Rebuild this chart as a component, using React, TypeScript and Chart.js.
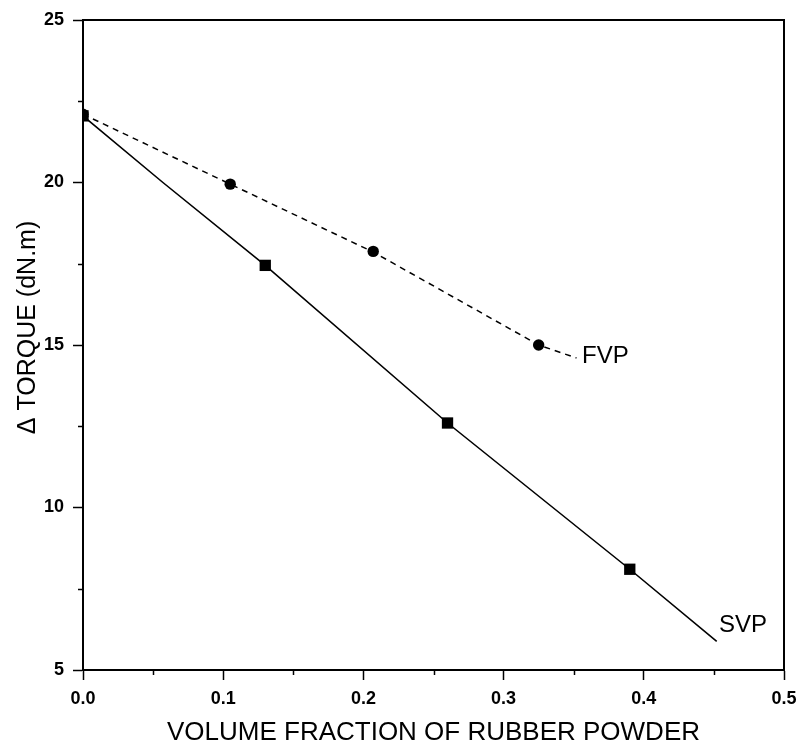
import React, { useEffect, useRef } from "react";
import { Chart, registerables } from "chart.js";

Chart.register(...registerables);

// FVP measured points (circles)
const fvpX = [0, 0.105, 0.207, 0.325];
const fvpY = [22.1, 19.95, 17.88, 15.0];
// FVP dashed curve
const fvpCurveX = [0, 0.105, 0.207, 0.325, 0.352];
const fvpCurveY = [22.1, 19.95, 17.86, 15.0, 14.6];

// SVP measured points (squares)
const svpX = [0, 0.13, 0.26, 0.39];
const svpY = [22.05, 17.45, 12.6, 8.1];
// SVP solid curve
const svpCurveX = [0, 0.057, 0.13, 0.26, 0.39, 0.452];
const svpCurveY = [22.05, 20.0, 17.45, 12.6, 8.1, 5.88];

// Tick values
const xMajorTicks = [0, 0.1, 0.2, 0.3, 0.4, 0.5];
const xMinorTicks = [0.05, 0.15, 0.25, 0.35, 0.45];
const yMajorTicks = [5, 10, 15, 20, 25];
const yMinorTicks = [7.5, 12.5, 17.5, 22.5];

// Curve labels
const curveNames = ["FVP", "SVP"];
const curveLabelX = [0.356, 0.4536];
const curveLabelY = [14.66, 6.38];

const xTitle = "VOLUME FRACTION OF RUBBER POWDER";
const yTitle = "\u0394 TORQUE (dN.m)";

const FONT = '"Liberation Sans", Arial, sans-serif';

const pts = (xs: number[], ys: number[]) => xs.map((x, i) => ({ x, y: ys[i] }));

const decorPlugin = {
  id: "decor",
  afterDraw(chart: any) {
    const { ctx, chartArea, scales } = chart;
    const xs = scales.x;
    const ys = scales.y;
    ctx.save();
    ctx.strokeStyle = "#000";
    // top and right frame
    ctx.lineWidth = 2;
    ctx.beginPath();
    ctx.moveTo(chartArea.left, chartArea.top);
    ctx.lineTo(chartArea.right, chartArea.top);
    ctx.lineTo(chartArea.right, chartArea.bottom);
    ctx.stroke();
    // minor ticks
    ctx.lineWidth = 1.5;
    ctx.beginPath();
    xMinorTicks.forEach((v) => {
      const px = Math.round(xs.getPixelForValue(v)) + 0.5;
      ctx.moveTo(px, chartArea.bottom);
      ctx.lineTo(px, chartArea.bottom + 5);
    });
    yMinorTicks.forEach((v) => {
      const py = Math.round(ys.getPixelForValue(v)) + 0.5;
      ctx.moveTo(chartArea.left - 5, py);
      ctx.lineTo(chartArea.left, py);
    });
    ctx.stroke();
    // titles
    ctx.fillStyle = "#000";
    ctx.font = `26px ${FONT}`;
    ctx.textAlign = "center";
    ctx.textBaseline = "alphabetic";
    ctx.fillText(xTitle, (chartArea.left + chartArea.right) / 2, 740);
    ctx.save();
    ctx.translate(34.5, 327.5);
    ctx.rotate(-Math.PI / 2);
    ctx.font = `25px ${FONT}`;
    ctx.fillText(yTitle, 0, 0);
    ctx.restore();
    // curve labels
    ctx.font = `24px ${FONT}`;
    ctx.textAlign = "left";
    ctx.textBaseline = "middle";
    curveNames.forEach((n, i) => {
      ctx.fillText(n, xs.getPixelForValue(curveLabelX[i]), ys.getPixelForValue(curveLabelY[i]));
    });
    ctx.restore();
  },
};

export default function App() {
  const ref = useRef<HTMLCanvasElement | null>(null);
  useEffect(() => {
    if (!ref.current) return;
    const chart = new Chart(ref.current, {
      type: "scatter",
      data: {
        datasets: [
          {
            data: pts(fvpCurveX, fvpCurveY),
            showLine: true,
            borderColor: "#000",
            borderWidth: 1.5,
            borderDash: [6, 5],
            pointRadius: 0,
            tension: 0,
          },
          {
            data: pts(svpCurveX, svpCurveY),
            showLine: true,
            borderColor: "#000",
            borderWidth: 1.6,
            pointRadius: 0,
            tension: 0,
          },
          {
            data: pts(svpX, svpY),
            showLine: false,
            pointStyle: "rect",
            pointRadius: 8,
            backgroundColor: "#000",
            borderColor: "#000",
            borderWidth: 0,
          },
          {
            data: pts(fvpX, fvpY),
            showLine: false,
            pointStyle: "circle",
            pointRadius: 5.7,
            backgroundColor: "#000",
            borderColor: "#000",
            borderWidth: 0,
          },
        ],
      },
      options: {
        responsive: false,
        animation: false,
        events: [],
        layout: { padding: { top: 20, right: 15, left: 0, bottom: 0 } },
        plugins: { legend: { display: false }, tooltip: { enabled: false } },
        scales: {
          x: {
            type: "linear",
            position: "bottom",
            min: 0,
            max: 0.5,
            afterBuildTicks: (s: any) => {
              s.ticks = xMajorTicks.map((v) => ({ value: v }));
            },
            afterFit: (s: any) => {
              s.height = 75;
              s.paddingLeft = 0;
              s.paddingRight = 0;
            },
            ticks: {
              color: "#000",
              font: { family: FONT, size: 18, weight: "bold" },
              padding: 8,
              maxRotation: 0,
              callback: (v: any) => Number(v).toFixed(1),
            },
            grid: { drawOnChartArea: false, drawTicks: true, tickLength: 10, tickWidth: 1.5, tickColor: "#000" },
            border: { display: true, color: "#000", width: 2 },
          },
          y: {
            type: "linear",
            position: "left",
            min: 5,
            max: 25,
            afterBuildTicks: (s: any) => {
              s.ticks = yMajorTicks.map((v) => ({ value: v }));
            },
            afterFit: (s: any) => {
              s.width = 83;
              s.paddingTop = 0;
              s.paddingBottom = 0;
            },
            ticks: {
              color: "#000",
              font: { family: FONT, size: 18, weight: "bold" },
              padding: 9,
              callback: (v: any) => String(v),
            },
            grid: { drawOnChartArea: false, drawTicks: true, tickLength: 10, tickWidth: 1.5, tickColor: "#000" },
            border: { display: true, color: "#000", width: 2 },
          },
        },
      },
      plugins: [decorPlugin],
    });
    return () => chart.destroy();
  }, []);
  return (
    <div style={{ position: "absolute", left: 0, top: 0, width: 799, height: 745, background: "#fff" }}>
      <canvas ref={ref} width={799} height={745} style={{ display: "block" }} />
    </div>
  );
}
